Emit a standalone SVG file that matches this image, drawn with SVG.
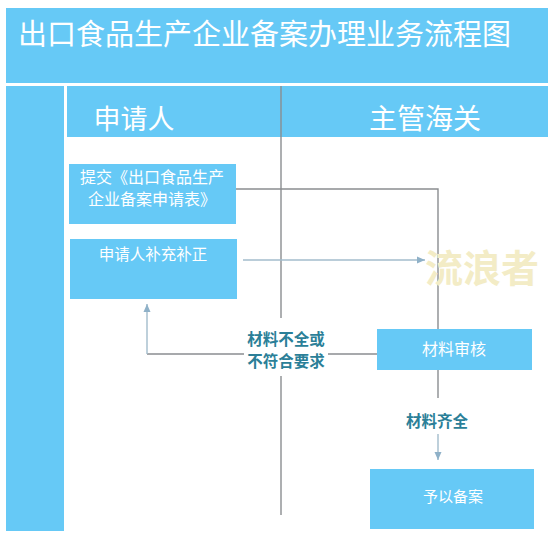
<svg xmlns="http://www.w3.org/2000/svg" width="548" height="542" viewBox="0 0 548 542">
<style>
.band{fill:#66c9f6}
.box{fill:#66c9f6}
.t{font-family:"Noto Sans CJK SC","Noto Sans",sans-serif;fill:#ffffff;text-anchor:middle}
.lbl{font-family:"Noto Sans CJK SC","Noto Sans",sans-serif;fill:#2b7f98;font-weight:bold;text-anchor:middle;font-size:15.5px}
.ln{stroke:#8a8d90;stroke-width:1.4;fill:none}
.la{stroke:#a3bccc;stroke-width:1.4;fill:none}
</style>
<defs>
<marker id="ah" markerWidth="10" markerHeight="10" refX="8" refY="5" orient="auto" markerUnits="userSpaceOnUse">
<path d="M0,1.5 L8,5 L0,8.5 Z" fill="#8fb1c8"/>
</marker>
</defs>
<rect width="548" height="542" fill="#ffffff"/>
<g id="title">
<rect class="band" x="6" y="8" width="542" height="75"/>
<text class="t" x="18" y="45" font-size="29" style="text-anchor:start">出口食品生产企业备案办理业务流程图</text>
</g>
<g id="lane-left">
<rect class="band" x="6" y="86" width="58" height="445"/>
</g>
<g id="lane-applicant">
<rect class="band" x="67" y="86" width="214" height="51"/>
<text class="t" x="134" y="129" font-size="27">申请人</text>
</g>
<g id="lane-customs">
<rect class="band" x="281" y="86" width="267" height="51"/>
<text class="t" x="425" y="129" font-size="28">主管海关</text>
</g>
<g id="connectors">
<line class="ln" x1="281" y1="86" x2="281" y2="515"/>
<polyline class="ln" points="236,189 438,189 438,329"/>
<line class="la" x1="243" y1="260" x2="425" y2="260" marker-end="url(#ah)"/>
<polyline class="ln" points="377,354 147,354"/>
<line class="la" x1="147" y1="354" x2="147" y2="304" marker-end="url(#ah)"/>
<line class="ln" x1="438" y1="370" x2="438" y2="398"/>
<line class="la" x1="438" y1="434" x2="438" y2="460" marker-end="url(#ah)"/>
<rect x="244" y="318" width="84" height="58" fill="#ffffff"/>
<rect x="400" y="404" width="76" height="30" fill="#ffffff"/>
<text class="lbl" x="286" y="345">材料不全或</text>
<text class="lbl" x="286" y="367">不符合要求</text>
<text class="lbl" x="437" y="427">材料齐全</text>
</g>
<g id="watermark">
<text x="482" y="282" font-family="Noto Sans CJK SC,sans-serif" font-weight="bold" font-size="38" fill="#f3ecc6" text-anchor="middle">流浪者</text>
</g>
<g id="submit">
<rect class="box" x="69" y="164" width="167" height="60"/>
<text class="t" x="152" y="183" font-size="16">提交《出口食品生产</text>
<text class="t" x="152" y="205" font-size="16">企业备案申请表》</text>
</g>
<g id="supplement">
<rect class="box" x="70" y="239" width="167" height="60"/>
<text class="t" x="153" y="260" font-size="15.5">申请人补充补正</text>
</g>
<g id="review">
<rect class="box" x="377" y="329" width="155" height="41"/>
<text class="t" x="454" y="355" font-size="16">材料审核</text>
</g>
<g id="approve">
<rect class="box" x="370" y="469" width="164" height="60"/>
<text class="t" x="453" y="502" font-size="15">予以备案</text>
</g>
</svg>
